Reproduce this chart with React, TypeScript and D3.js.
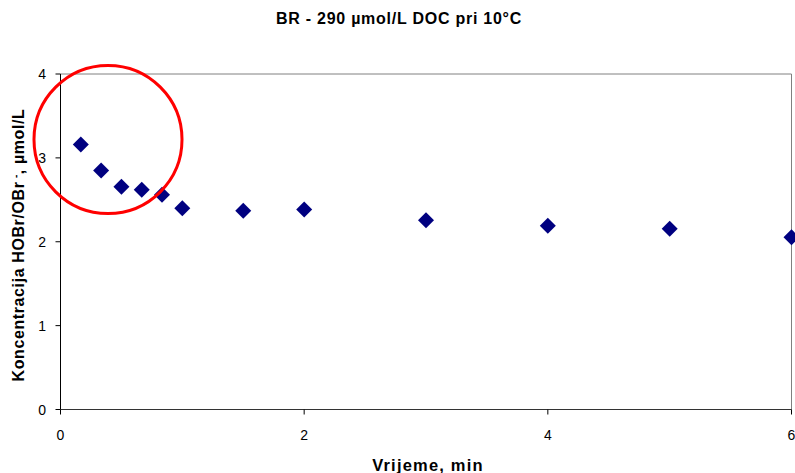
import React from "react";
import * as d3 from "d3";

const timeMin = [1 / 6, 1 / 3, 0.5, 2 / 3, 5 / 6, 1, 1.5, 2, 3, 4, 5, 6];
const concentration = [3.16, 2.85, 2.655, 2.62, 2.56, 2.4, 2.37, 2.385, 2.255, 2.19, 2.155, 2.055];
const xTicks = [0, 2, 4, 6];
const yTicks = [0, 1, 2, 3, 4];

const W = 795;
const H = 473;
const left = 60.5;
const right = 791.5;
const top = 74;
const bottom = 409.5;

export default function App() {
  const x = d3.scaleLinear().domain([0, 6]).range([left, right]);
  const y = d3.scaleLinear().domain([0, 4]).range([bottom, top]);
  const diamond = d3.symbol().type(d3.symbolSquare).size(128)();
  const font = "'Liberation Sans', Arial, sans-serif";

  return (
    <svg width={W} height={H} style={{ position: "absolute", left: 0, top: 0, background: "#fff" }} fontFamily={font}>
      <rect x={0} y={0} width={W} height={H} fill="#fff" />
      <text x={399} y={24} textAnchor="middle" fontSize={16} fontWeight="bold" letterSpacing={0.75}>
        BR - 290 µmol/L DOC pri 10°C
      </text>
      {/* plot border */}
      <line x1={left} x2={right} y1={top} y2={top} stroke="#808080" strokeWidth={1} />
      <line x1={right} x2={right} y1={top} y2={bottom} stroke="#808080" strokeWidth={1} />
      {/* axes */}
      <line x1={left} x2={left} y1={top} y2={bottom} stroke="#000" strokeWidth={1} />
      <line x1={left} x2={right} y1={bottom} y2={bottom} stroke="#333" strokeWidth={1} />
      {yTicks.map((t) => (
        <g key={"y" + t}>
          <line x1={left - 5} x2={left} y1={y(t)} y2={y(t)} stroke="#000" />
          <text x={46} y={y(t) + 5} textAnchor="end" fontSize={14}>
            {t}
          </text>
        </g>
      ))}
      {xTicks.map((t) => (
        <g key={"x" + t}>
          <line x1={x(t)} x2={x(t)} y1={bottom} y2={bottom + 5} stroke="#000" />
          <text x={x(t)} y={bottom + 30} textAnchor="middle" fontSize={14}>
            {t}
          </text>
        </g>
      ))}
      <text x={428} y={471} textAnchor="middle" fontSize={16.5} fontWeight="bold" letterSpacing={1.2}>
        Vrijeme, min
      </text>
      <text
        transform={`translate(24, 245) rotate(-90)`}
        textAnchor="middle"
        fontSize={16}
        fontWeight="bold"
        letterSpacing={0.6}
      >
        Koncentracija HOBr/OBr
        <tspan baselineShift="super" fontSize={10}>
          {" -"}
        </tspan>
        <tspan>, µmol/L</tspan>
      </text>
      {timeMin.map((t, i) => (
        <path
          key={i}
          d={diamond || ""}
          transform={`translate(${x(t)}, ${y(concentration[i])}) rotate(45)`}
          fill="#000080"
        />
      ))}
      <ellipse cx={108} cy={139.5} rx={74} ry={74} fill="none" stroke="#ff0000" strokeWidth={3} />
    </svg>
  );
}
